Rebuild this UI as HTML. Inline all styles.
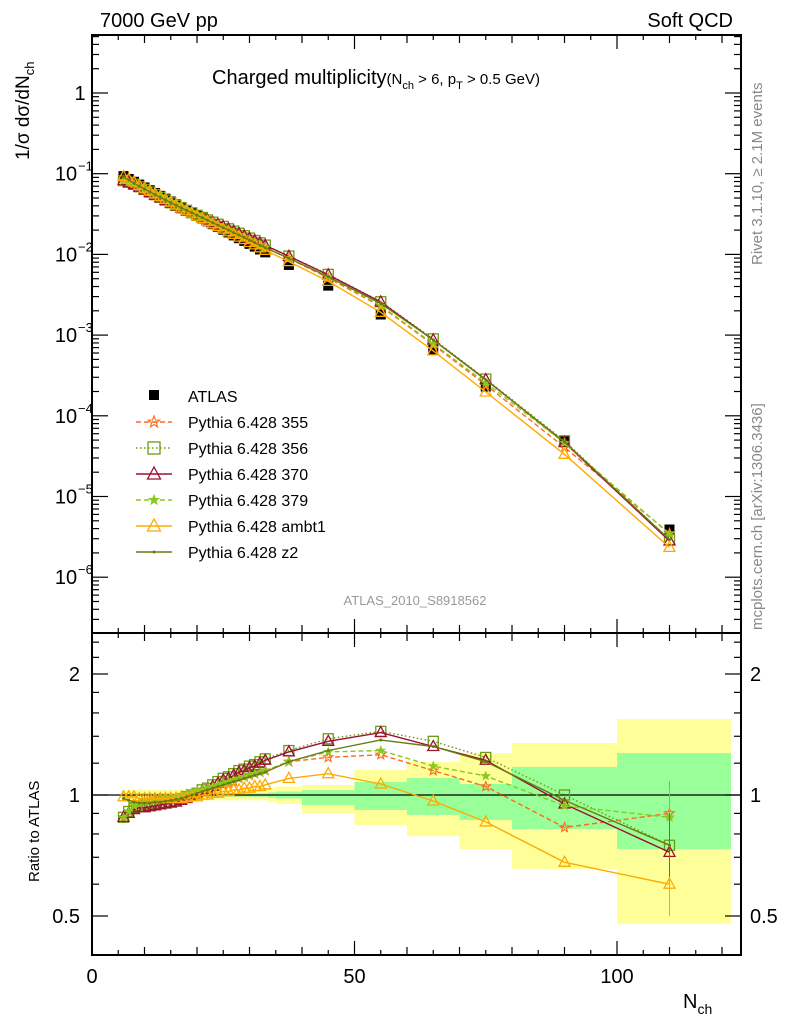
<!DOCTYPE html>
<html><head><meta charset="utf-8"><style>
html,body{margin:0;padding:0;background:#fff;}
svg{display:block;font-family:"Liberation Sans",sans-serif;}
</style></head><body>
<svg id="c" width="786" height="1024" viewBox="0 0 786 1024" xmlns="http://www.w3.org/2000/svg"></svg>
<script>
const xs=[6,7,8,9,10,11,12,13,14,15,16,17,18,19,20,21,22,23,24,25,26,27,28,29,30,31,32,33,37.5,45,55,65,75,90,110];
const atlas=[0.0933,0.0860,0.0794,0.0733,0.0676,0.0624,0.0575,0.0531,0.0490,0.0452,0.0417,0.0385,0.0355,0.0328,0.0302,0.0279,0.0257,0.0237,0.0219,0.0202,0.0187,0.0172,0.0159,0.0147,0.0135,0.0125,0.0115,0.0106,0.0074,0.0041,0.0018,6.6e-4,2.3e-4,4.9e-5,3.9e-6];
const r355=[0.88,0.91,0.94,0.95,0.96,0.965,0.97,0.97,0.975,0.98,0.985,0.99,1.0,1.0,1.01,1.02,1.03,1.04,1.05,1.06,1.07,1.08,1.10,1.11,1.12,1.13,1.14,1.15,1.21,1.24,1.26,1.15,1.05,0.83,0.90];
const r356=[0.88,0.91,0.93,0.94,0.945,0.95,0.955,0.96,0.96,0.965,0.97,0.98,0.99,1.0,1.01,1.03,1.04,1.06,1.08,1.10,1.11,1.13,1.15,1.16,1.18,1.19,1.21,1.23,1.29,1.38,1.44,1.36,1.24,1.0,0.75];
const r370=[0.88,0.90,0.92,0.93,0.93,0.935,0.94,0.945,0.95,0.955,0.96,0.97,0.98,0.99,1.0,1.02,1.03,1.05,1.07,1.09,1.10,1.12,1.14,1.15,1.17,1.18,1.20,1.22,1.28,1.36,1.43,1.32,1.22,0.95,0.72];
const r379=[0.88,0.91,0.94,0.95,0.96,0.965,0.97,0.975,0.98,0.985,0.99,1.0,1.0,1.01,1.02,1.03,1.04,1.05,1.06,1.07,1.08,1.09,1.10,1.11,1.12,1.13,1.14,1.15,1.21,1.28,1.29,1.18,1.115,0.94,0.88];
const rambt1=[0.99,0.99,0.99,0.98,0.98,0.98,0.98,0.98,0.98,0.98,0.98,0.98,0.985,0.99,0.99,1.0,1.0,1.01,1.01,1.02,1.02,1.03,1.03,1.04,1.04,1.05,1.05,1.06,1.10,1.13,1.065,0.966,0.857,0.68,0.60];
const rz2=[0.98,0.97,0.96,0.955,0.955,0.955,0.96,0.96,0.965,0.97,0.975,0.98,0.99,1.0,1.01,1.02,1.03,1.04,1.05,1.06,1.07,1.08,1.09,1.10,1.11,1.12,1.13,1.14,1.21,1.29,1.37,1.32,1.21,0.97,0.75];
const binLo=[5.5,33.5,35,40,50,60,70,80,100];
const binHi=[33.5,35,40,50,60,70,80,100,121.7];
const totLo=[0.97,0.96,0.95,0.902,0.842,0.79,0.734,0.655,0.478];
const totHi=[1.03,1.04,1.05,1.059,1.154,1.208,1.272,1.347,1.546];
const statLo=[0.99,0.985,0.98,0.944,0.918,0.892,0.867,0.823,0.734];
const statHi=[1.01,1.015,1.02,1.029,1.077,1.102,1.065,1.174,1.272];
const xTicks=[0,50,100];
const yTicks=[1,0.1,0.01,0.001,1e-4,1e-5,1e-6];
const yTickLbl=["1","10","10","10","10","10","10"];
const yTickExp=["","−1","−2","−3","−4","−5","−6"];

const NS="http://www.w3.org/2000/svg";
const svg=document.getElementById('c');
const L=92,R=741,T=35,MID=633,B=955;
const X=v=>L+v*5.25;
const Y=v=>93-80.7*Math.log10(v);
const YR=v=>795-121*Math.log2(v);
function el(tag,attrs,parent){const e=document.createElementNS(NS,tag);for(const k in attrs)e.setAttribute(k,attrs[k]);(parent||svg).appendChild(e);return e;}
function txt(s,x,y,size,attrs,parent){const t=el('text',Object.assign({x:x,y:y,'font-size':size},attrs||{}),parent);t.textContent=s;return t;}

// bands
const bands=el('g',{});


for(let i=0;i<binLo.length;i++){
  const r=el('rect',{x:X(binLo[i]),y:YR(totHi[i]),width:X(binHi[i])-X(binLo[i]),height:YR(totLo[i])-YR(totHi[i]),fill:'#ffff99'},bands);
  
  
  const g=el('rect',{x:X(binLo[i]),y:YR(statHi[i]),width:X(binHi[i])-X(binLo[i]),height:YR(statLo[i])-YR(statHi[i]),fill:'#99ff99'},bands);
  
  
}
el('line',{x1:L,x2:R,y1:YR(1),y2:YR(1),stroke:'#000','stroke-width':1.3});

// marker
function marker(kind,x,y,color,parent,sz){
  sz=sz||5;
  if(kind==='tri'){return el('polygon',{points:`${x},${y-sz-1} ${x-sz-0.5},${y+sz-1} ${x+sz+0.5},${y+sz-1}`,fill:'none',stroke:color,'stroke-width':1.3},parent);}
  if(kind==='sq'){return el('rect',{x:x-sz,y:y-sz,width:2*sz,height:2*sz,fill:'none',stroke:color,'stroke-width':1.3},parent);}
  if(kind==='star'||kind==='sstar'){const s=kind==='star'?sz:sz*0.8;let p=[];for(let k=0;k<10;k++){const a=-Math.PI/2+k*Math.PI/5;const rr=k%2?s*0.42:s;p.push((x+rr*Math.cos(a)).toFixed(1)+','+(y+rr*Math.sin(a)).toFixed(1));}
    return el('polygon',{points:p.join(' '),fill:kind==='sstar'?color:'none',stroke:color,'stroke-width':1.1},parent);}
  if(kind==='dot'){return el('circle',{cx:x,cy:y,r:1.5,fill:color},parent);}
  if(kind==='fsq'){return el('rect',{x:x-5,y:y-5,width:10,height:10,fill:color},parent);}
}
const series=[
 {name:'Pythia 6.428 355',r:r355,color:'#ff6a1a',dash:'5,3',m:'star'},
 {name:'Pythia 6.428 356',r:r356,color:'#6e9a10',dash:'1.5,2.5',m:'sq'},
 {name:'Pythia 6.428 370',r:r370,color:'#9b1030',dash:'',m:'tri'},
 {name:'Pythia 6.428 379',r:r379,color:'#8ac81e',dash:'5,3',m:'sstar'},
 {name:'Pythia 6.428 ambt1',r:rambt1,color:'#ffaa00',dash:'',m:'tri'},
 {name:'Pythia 6.428 z2',r:rz2,color:'#6b7a10',dash:'',m:'dot'}
];
// clip paths
const defs=el('defs',{});
const cp1=el('clipPath',{id:'cm'},defs);el('rect',{x:L,y:T,width:R-L,height:MID-T},cp1);
const cp2=el('clipPath',{id:'cr'},defs);el('rect',{x:L,y:MID,width:R-L,height:B-MID},cp2);

// ATLAS main
const ga=el('g',{'clip-path':'url(#cm)'});


xs.forEach((x,i)=>{const m=marker('fsq',X(x),Y(atlas[i]),'#000',ga);});

series.forEach(s=>{
  const gm=el('g',{'clip-path':'url(#cm)'});
  
  
  const pm=xs.map((x,i)=>X(x).toFixed(1)+','+Y(atlas[i]*s.r[i]).toFixed(1)).join(' ');
  el('polyline',{points:pm,fill:'none',stroke:s.color,'stroke-width':1.4,'stroke-dasharray':s.dash},gm);
  xs.forEach((x,i)=>{const m=marker(s.m,X(x),Y(atlas[i]*s.r[i]),s.color,gm);});
  const gr=el('g',{'clip-path':'url(#cr)'});
  
  
  const pr=xs.map((x,i)=>X(x).toFixed(1)+','+YR(s.r[i]).toFixed(1)).join(' ');
  el('polyline',{points:pr,fill:'none',stroke:s.color,'stroke-width':1.4,'stroke-dasharray':s.dash},gr);
  xs.forEach((x,i)=>{const m=marker(s.m,X(x),YR(s.r[i]),s.color,gr);});
  const n=xs.length-1;
  el('line',{x1:X(xs[n]),x2:X(xs[n]),y1:YR(s.r[n]*1.2),y2:YR(s.r[n]/1.2),stroke:s.color,'stroke-width':1},gr);
});

// frames
el('rect',{x:L,y:T,width:R-L,height:B-T,fill:'none',stroke:'#000','stroke-width':2});
el('line',{x1:L,x2:R,y1:MID,y2:MID,stroke:'#000','stroke-width':2});
// x ticks
for(let v=0;v<=120;v+=5){
  const len=v%50===0?14:(v%10===0?8:5);
  const x=X(v);
  [[MID,-1],[MID,1],[B,-1],[T,1]].forEach(([y0,d])=>el('line',{x1:x,x2:x,y1:y0,y2:y0+d*len,stroke:'#000','stroke-width':1.2}));
}
xTicks.forEach(v=>{const t=txt(String(v),X(v),983,20,{'text-anchor':'middle'});});
// y log ticks main
for(let d=-7;d<=0;d++){for(let k=1;k<10;k++){const v=k*Math.pow(10,d);const y=Y(v);if(y<T||y>MID)continue;const len=k===1?16:7;
  el('line',{x1:L,x2:L+len,y1:y,y2:y,stroke:'#000','stroke-width':1.2});el('line',{x1:R,x2:R-len,y1:y,y2:y,stroke:'#000','stroke-width':1.2});}}
yTicks.forEach((v,i)=>{const y=Y(v);const t=txt(yTickLbl[i],yTickExp[i]?66:80,y+7,20,{'text-anchor':'middle'});
  if(yTickExp[i]){const e=txt(yTickExp[i],78,y-3,13,{});}});
// ratio ticks
[0.5,0.6,0.7,0.8,0.9,1,1.2,1.4,1.6,1.8,2,2.2,2.4].forEach(v=>{const y=YR(v);if(y<MID||y>B)return;const len=(v===0.5||v===1||v===2)?16:7;
  el('line',{x1:L,x2:L+len,y1:y,y2:y,stroke:'#000','stroke-width':1.2});el('line',{x1:R,x2:R-len,y1:y,y2:y,stroke:'#000','stroke-width':1.2});});
[[0.5,'0.5'],[1,'1'],[2,'2']].forEach(([v,s])=>{
  const a=txt(s,80,YR(v)+7,20,{'text-anchor':'end'});
  const b=txt(s,750,YR(v)+7,20,{});});

// labels
let t;
t=txt('7000 GeV pp',100,27,20,{});
t=txt('Soft QCD',733,27,20,{'text-anchor':'end'});
t=el('text',{x:212,y:84,'font-size':20});
t.innerHTML='Charged multiplicity<tspan font-size="15">(N</tspan><tspan font-size="11" dy="5">ch</tspan><tspan font-size="15" dy="-5"> &gt; 6, p</tspan><tspan font-size="11" dy="5">T</tspan><tspan font-size="15" dy="-5"> &gt; 0.5 GeV)</tspan>';
t=el('text',{x:0,y:0,'font-size':19,transform:'translate(29,160) rotate(-90)'});
t.innerHTML='1/σ dσ/dN<tspan font-size="13" dy="5">ch</tspan>';
t=txt('Ratio to ATLAS',0,0,15,{transform:'translate(39,882) rotate(-90)'});
t=el('text',{x:683,y:1008,'font-size':20});
t.innerHTML='N<tspan font-size="14" dy="6">ch</tspan>';
t=txt('Rivet 3.1.10, ≥ 2.1M events',0,0,15,{fill:'#888',transform:'translate(762,265) rotate(-90)'});
t=txt('mcplots.cern.ch [arXiv:1306.3436]',0,0,15,{fill:'#888',transform:'translate(762,630) rotate(-90)'});
t=txt('ATLAS_2010_S8918562',415,605,13,{fill:'#999','text-anchor':'middle'});

// legend
const lg=el('g',{});


const e0=el('g',{},lg);


marker('fsq',154,395,'#000',e0);txt('ATLAS',188,402,16,{},e0);
series.forEach((s,i)=>{const y=422+i*26;const g=el('g',{},lg);
  
  
  el('line',{x1:136,x2:172,y1:y,y2:y,stroke:s.color,'stroke-width':1.4,'stroke-dasharray':s.dash},g);
  marker(s.m==='dot'?'dot':s.m,154,y,s.color,g,6);
  txt(s.name,188,y+6,16,{},g);});
</script>
</body></html>
